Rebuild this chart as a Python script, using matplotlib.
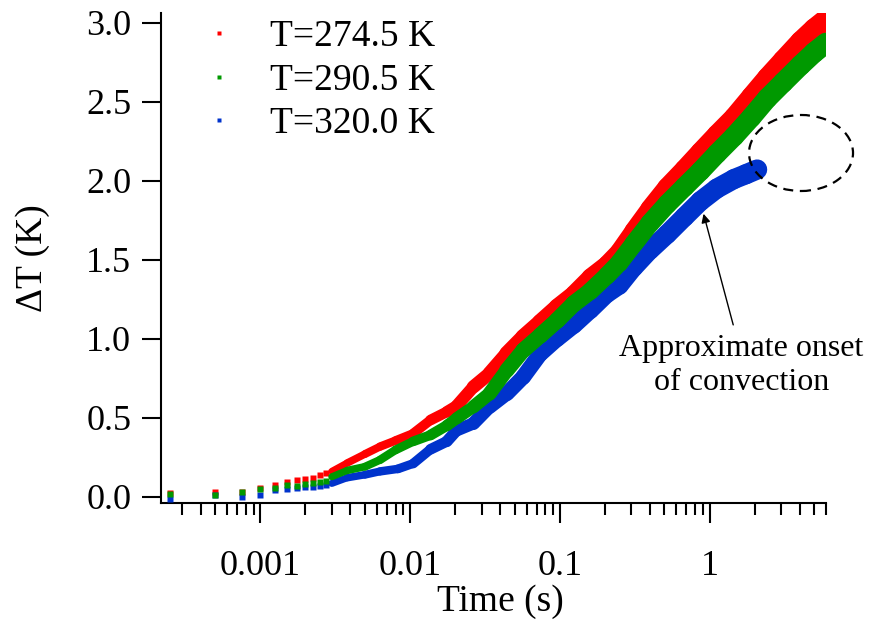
#!/usr/bin/env python3
"""Temperature rise vs time (log scale) for three bath temperatures."""

import matplotlib.pyplot as plt
import numpy as np
from matplotlib.collections import LineCollection
from matplotlib.lines import Line2D
from matplotlib.patches import Ellipse
from matplotlib.ticker import FuncFormatter, LogLocator, NullFormatter

plt.rcParams["font.family"] = ["Liberation Serif", "DejaVu Serif"]

LABELS = ["T=274.5 K", "T=290.5 K", "T=320.0 K"]
COLORS = ["#ff0000", "#009900", "#0033cc"]

# early, individually visible samples (s, K)
T_SPARSE = [0.00025, 0.0005, 0.00075, 0.001, 0.00125, 0.0015, 0.00175,
            0.002, 0.00225, 0.0025, 0.00275]
RED_SPARSE = [0.025, 0.03, 0.03, 0.055, 0.076, 0.095, 0.107, 0.115, 0.12, 0.14, 0.15]
GREEN_SPARSE = [0.015, 0.012, 0.027, 0.05, 0.057, 0.075, 0.068, 0.08, 0.085, 0.09, 0.097]
BLUE_SPARSE = [-0.012, 0.008, -0.004, 0.013, 0.045, 0.05, 0.055, 0.06, 0.062, 0.07, 0.075]

# dense part of the record, read as the band centre
T_BAND = [0.003, 0.0038, 0.005, 0.0063, 0.008, 0.0105, 0.0137, 0.0176, 0.0205,
          0.0265, 0.034, 0.0443, 0.057, 0.0741, 0.096, 0.124, 0.16, 0.207, 0.25,
          0.312, 0.40, 0.52, 0.68, 0.87, 1.12, 1.46, 1.9, 2.43, 3.1, 4.06, 5.0, 6.0]
RED_BAND = [0.16, 0.213, 0.27, 0.317, 0.355, 0.40, 0.485, 0.537, 0.575,
            0.695, 0.78, 0.905, 1.01, 1.105, 1.20, 1.283, 1.388, 1.47, 1.55,
            1.68, 1.82, 1.955, 2.07, 2.18, 2.29, 2.40, 2.53, 2.65, 2.76, 2.88, 2.96, 3.02]
GREEN_BAND = [0.126, 0.166, 0.19, 0.233, 0.296, 0.35, 0.39, 0.45, 0.496,
              0.569, 0.653, 0.80, 0.926, 1.02, 1.115, 1.22, 1.30, 1.40, 1.48,
              1.60, 1.73, 1.85, 1.96, 2.06, 2.17, 2.28, 2.40, 2.52, 2.62, 2.73, 2.81, 2.87]
T_BLUE_BAND = [0.003, 0.0038, 0.005, 0.0063, 0.0083, 0.0105, 0.0137, 0.0176, 0.0205,
               0.0265, 0.034, 0.0443, 0.057, 0.0741, 0.096, 0.124, 0.16, 0.207, 0.25,
               0.312, 0.40, 0.52, 0.68, 0.87, 1.12, 1.46, 1.75, 2.08]
BLUE_BAND = [0.084, 0.12, 0.139, 0.16, 0.176, 0.21, 0.30, 0.35, 0.42,
             0.464, 0.569, 0.653, 0.758, 0.905, 1.0, 1.084, 1.18, 1.283, 1.336,
             1.45, 1.56, 1.66, 1.77, 1.87, 1.95, 2.01, 2.04, 2.07]

ARROW_TIP = (0.912, 1.79)
ARROW_START = (1.44, 1.087)


def band_width(t):
    """Noise makes the trace thicker at long times (points)."""
    return np.interp(np.log10(t), [-2.5, -2.0, -1.3, -0.3, 0.8], [5.0, 6.5, 11.0, 14.0, 15.0])


def draw_band(ax, t, y, color, z):
    pts = np.column_stack([t, y])
    segs = np.stack([pts[:-1], pts[1:]], axis=1)
    mid = np.sqrt(np.array(t[:-1]) * np.array(t[1:]))
    lc = LineCollection(segs, colors=color, linewidths=band_width(mid),
                        capstyle="round", joinstyle="round", zorder=z)
    ax.add_collection(lc)


fig = plt.figure(figsize=(8.93, 6.26), dpi=100)
ax = fig.add_axes([0.1803, 0.1957, 0.7447, 0.7835])

series = [
    (RED_SPARSE, T_BAND, RED_BAND, COLORS[0], 2),
    (BLUE_SPARSE, T_BLUE_BAND, BLUE_BAND, COLORS[2], 3),
    (GREEN_SPARSE, T_BAND, GREEN_BAND, COLORS[1], 4),
]
for sparse, tb, yb, color, z in series:
    ax.plot(T_SPARSE, sparse, "s", color=color, ms=4.6, mec="none", zorder=z)
    draw_band(ax, tb, yb, color, z)

ax.set_xscale("log")
ax.set_xlim(2.17e-4, 6.0)
ax.set_ylim(-0.043, 3.06)

ax.xaxis.set_major_locator(LogLocator(base=10))
ax.xaxis.set_major_formatter(FuncFormatter(lambda v, _: f"{v:g}"))
ax.xaxis.set_minor_locator(LogLocator(base=10, subs=np.arange(2, 10)))
ax.xaxis.set_minor_formatter(NullFormatter())
ax.set_yticks(np.arange(0, 3.01, 0.5))
ax.yaxis.set_major_formatter(FuncFormatter(lambda v, _: f"{v:.1f}"))

for side in ("top", "right"):
    ax.spines[side].set_visible(False)
for side in ("left", "bottom"):
    ax.spines[side].set_linewidth(1.5)

ax.tick_params(axis="x", which="major", direction="out", length=14.5, width=1.5,
               labelsize=26, pad=19)
ax.tick_params(axis="x", which="minor", direction="out", length=8.5, width=1.5)
ax.tick_params(axis="y", which="major", direction="out", length=13.5, width=1.5,
               labelsize=26, pad=8)

ax.set_xlabel("Time (s)", fontsize=27, labelpad=1)
ax.xaxis.label.set_x(0.511)
ax.set_ylabel("ΔT (K)", fontsize=27, labelpad=26)

handles = [Line2D([], [], marker="s", ls="none", color=c, ms=3.5, mec="none") for c in COLORS]
ax.legend(handles, LABELS, loc="upper left", bbox_to_anchor=(0.059, 0.986),
          frameon=False, fontsize=27, handlelength=1.0, handletextpad=0.85,
          borderpad=0, borderaxespad=0, labelspacing=0.24)

ax.annotate("", xy=ARROW_TIP, xytext=ARROW_START,
            arrowprops=dict(arrowstyle="-|>", color="black", lw=1.0,
                            mutation_scale=13, shrinkA=0, shrinkB=0), zorder=6)
ax.text(1.63, 0.83, "Approximate onset\nof convection", ha="center", va="center",
        fontsize=23, linespacing=1.25, zorder=6)

ax.add_patch(Ellipse((0.9624, 0.7146), 0.1564, 0.155, transform=ax.transAxes,
                     fill=False, edgecolor="black", lw=1.6,
                     linestyle=(0, (4.5, 3.0)), clip_on=False, zorder=6))

fig.savefig("out.png", dpi=100)
